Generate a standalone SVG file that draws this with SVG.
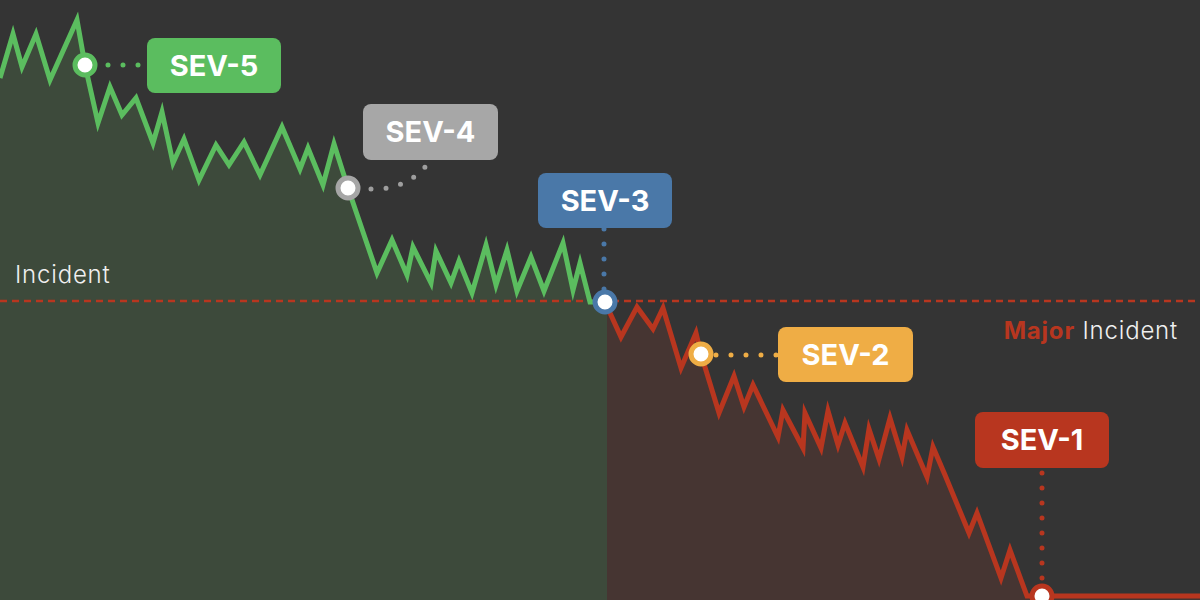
<svg xmlns="http://www.w3.org/2000/svg" width="1200" height="600" viewBox="0 0 1200 600">
  <style>
    .line{fill:none;stroke-width:5;stroke-linejoin:miter;stroke-miterlimit:10}
    .dots{fill:none;stroke-width:5;stroke-linecap:round;stroke-dasharray:0 15}
    .node{fill:#ffffff;stroke-width:5}
    .lbl{font-family:Inter,"Liberation Sans",sans-serif;font-weight:700;font-size:29px;fill:#ffffff;text-anchor:middle}
    .axis{font-family:Inter,"Liberation Sans",sans-serif;font-weight:300;font-size:24px;letter-spacing:0.8px;fill:#f0f0f0}
  </style>
  <rect width="1200" height="600" fill="#343434"/>
  <g id="areas">
    <polygon fill="#3d4a3b" points="0,78 13,34 22,67 36,34 50,80 77,20 85,65 98,123 110,87 122,115 136,98 153,143 162,112 173,163 184,139 199,180 216,145 229,165 244,142 260,175 282,127 300,169 308,148 323,185 334,144 348,188 363,232 377,273 392,240 407,275 413,247 431,283 436,251 451,283 459,261 472,293 486,245 496,285 507,250 517,291 531,257 544,291 563,243 573,290 580,263 590,302 607,302 607,600 0,600"/>
    <polygon fill="#463532" points="607,302 621,337 637,307 653,329 663,308 681,368 696,333 701,354 719,413 734,376 744,407 753,385 778,437 783,410 803,448 805,413 821,448 828,411 838,445 845,423 863,467 869,429 879,459 890,418 902,457 907,430 927,477 933,447 945,475 969,533 977,513 1001,578 1010,550 1027,596 1200,596 1200,600 607,600"/>
  </g>
  <line x1="0" y1="301" x2="1200" y2="301" stroke="#b8361f" stroke-width="2.5" stroke-dasharray="7 5"/>
  <text class="axis" x="15" y="283">Incident</text>
  <text class="axis" x="1178" y="339" text-anchor="end"><tspan fill="#b8361f" font-weight="700">Major</tspan> Incident</text>
  <g id="connectors">
    <polyline class="line" stroke="#5bbd5f" points="0,78 13,34 22,67 36,34 50,80 77,20 85,65 98,123 110,87 122,115 136,98 153,143 162,112 173,163 184,139 199,180 216,145 229,165 244,142 260,175 282,127 300,169 308,148 323,185 334,144 348,188 363,232 377,273 392,240 407,275 413,247 431,283 436,251 451,283 459,261 472,293 486,245 496,285 507,250 517,291 531,257 544,291 563,243 573,290 580,263 590,302 605,302"/>
    <polyline class="line" stroke="#b8361f" points="605,302 621,337 637,307 653,329 663,308 681,368 696,333 701,354 719,413 734,376 744,407 753,385 778,437 783,410 803,448 805,413 821,448 828,411 838,445 845,423 863,467 869,429 879,459 890,418 902,457 907,430 927,477 933,447 945,475 969,533 977,513 1001,578 1010,550 1027,596 1200,596"/>
    <path class="dots" stroke="#5bbd5f" stroke-dasharray="0 16" d="M108 65 H141"/>
    <path class="dots" stroke="#9e9e9e" d="M371 189 Q405 190 426 166"/>
    <path class="dots" stroke="#4a78a8" d="M604 229 V290"/>
    <path class="dots" stroke="#efad45" d="M716 355 H777"/>
    <path class="dots" stroke="#b8361f" d="M1042 473 V579"/>
  </g>
  <g id="sev5">
    <circle class="node" cx="85" cy="65" r="10" stroke="#5bbd5f"/>
    <rect x="147" y="38" width="134" height="55" rx="8" fill="#5bbd5f"/>
    <text class="lbl" x="214" y="76">SEV-5</text>
  </g>
  <g id="sev4">
    <circle class="node" cx="348" cy="188" r="10" stroke="#a6a6a6"/>
    <rect x="363" y="104" width="135" height="56" rx="8" fill="#a7a7a7"/>
    <text class="lbl" x="430.5" y="142">SEV-4</text>
  </g>
  <g id="sev3">
    <circle class="node" cx="605" cy="302" r="10" stroke="#4a78a8"/>
    <rect x="538" y="173" width="134" height="55" rx="8" fill="#4a78a8"/>
    <text class="lbl" x="605" y="211">SEV-3</text>
  </g>
  <g id="sev2">
    <circle class="node" cx="701" cy="354" r="10" stroke="#efad45"/>
    <rect x="778" y="327" width="135" height="55" rx="8" fill="#efad45"/>
    <text class="lbl" x="845.5" y="365">SEV-2</text>
  </g>
  <g id="sev1">
    <circle class="node" cx="1042" cy="596" r="10" stroke="#b8361f"/>
    <rect x="975" y="412" width="134" height="56" rx="8" fill="#b8361f"/>
    <text class="lbl" x="1042" y="450">SEV-1</text>
  </g>
</svg>
